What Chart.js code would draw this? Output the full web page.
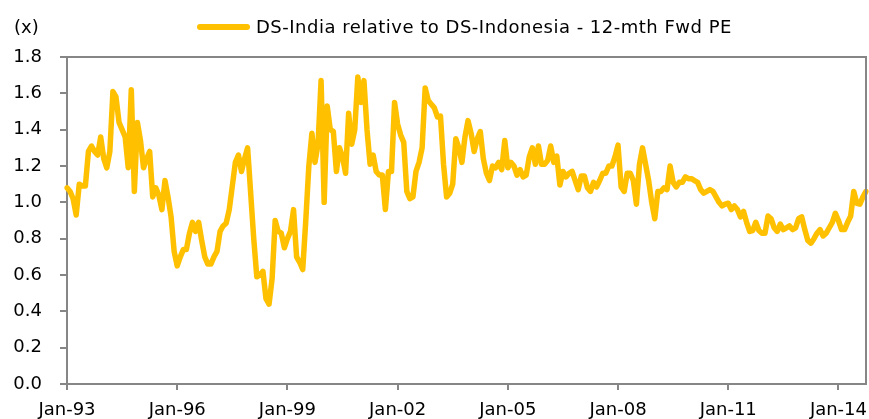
<!DOCTYPE html>
<html>
<head>
<meta charset="utf-8">
<title>DS-India relative to DS-Indonesia - 12-mth Fwd PE</title>
<script src="https://cdn.jsdelivr.net/npm/chart.js@4/dist/chart.umd.min.js"></script>
<style>
    html, body { margin: 0; padding: 0; background: #fff; }
    #wrap { position: relative; width: 869px; height: 419px; overflow: hidden; font-family: "DejaVu Sans", sans-serif; }
    #chart { position: absolute; left: 0; top: 0; }
    #unit { position: absolute; left: 14px; top: 16px; font-size: 18px; color: #000; }
    #legend { position: absolute; left: 197px; top: 16px; font-size: 18px; letter-spacing: 0.5px; color: #000; white-space: nowrap; display: flex; align-items: center; }
    #legend .swatch { display: inline-block; width: 53px; height: 6px; border-radius: 3px; margin-right: 6px; }
</style>
</head>
<body>
<div id="wrap">
    <canvas id="chart" width="869" height="419"></canvas>
    <div id="unit">(x)</div>
    <div id="legend"><span class="swatch"></span><span class="label"></span></div>
</div>
<script>
// ===================================
// India vs Indonesia relative forward PE, monthly Jan-93 .. Oct-14
// ===================================

const SERIES_NAME = 'DS-India relative to DS-Indonesia - 12-mth Fwd PE';
const SERIES_COLOR = '#FFC000';
const START_YEAR = 1993;
const MONTH_NAMES = ['Jan', 'Feb', 'Mar', 'Apr', 'May', 'Jun', 'Jul', 'Aug', 'Sep', 'Oct', 'Nov', 'Dec'];

// relative PE (x), one value per month
const relPE = [
    1.08, 1.06, 1.02, 0.93, 1.10, 1.09, 1.09, 1.28, 1.31, 1.28, 1.26, 1.36, // 1993
    1.24, 1.19, 1.28, 1.61, 1.58, 1.44, 1.40, 1.36, 1.19, 1.62, 1.06, 1.44, // 1994
    1.34, 1.19, 1.24, 1.28, 1.03, 1.08, 1.04, 0.96, 1.12, 1.03, 0.92, 0.73, // 1995
    0.65, 0.70, 0.74, 0.74, 0.83, 0.89, 0.84, 0.89, 0.79, 0.70, 0.66, 0.66, // 1996
    0.70, 0.73, 0.84, 0.87, 0.885, 0.96, 1.09, 1.22, 1.26, 1.17, 1.24, 1.30, // 1997
    1.05, 0.80, 0.59, 0.60, 0.62, 0.47, 0.44, 0.58, 0.90, 0.84, 0.83, 0.75, // 1998
    0.80, 0.84, 0.96, 0.70, 0.67, 0.63, 0.90, 1.20, 1.38, 1.22, 1.32, 1.67, // 1999
    1.00, 1.53, 1.40, 1.39, 1.17, 1.30, 1.25, 1.16, 1.49, 1.32, 1.40, 1.69, // 2000
    1.55, 1.67, 1.40, 1.21, 1.26, 1.17, 1.15, 1.15, 0.96, 1.17, 1.17, 1.55, // 2001
    1.43, 1.37, 1.33, 1.06, 1.02, 1.03, 1.17, 1.22, 1.30, 1.63, 1.56, 1.54, // 2002
    1.52, 1.47, 1.475, 1.21, 1.03, 1.05, 1.10, 1.35, 1.30, 1.22, 1.36, 1.45, // 2003
    1.38, 1.28, 1.35, 1.39, 1.24, 1.16, 1.12, 1.20, 1.19, 1.22, 1.18, 1.34, // 2004
    1.19, 1.22, 1.20, 1.15, 1.18, 1.14, 1.15, 1.25, 1.30, 1.21, 1.31, 1.21, // 2005
    1.21, 1.23, 1.31, 1.22, 1.255, 1.095, 1.17, 1.14, 1.16, 1.17, 1.12, 1.07, // 2006
    1.145, 1.145, 1.08, 1.06, 1.11, 1.085, 1.12, 1.16, 1.16, 1.20, 1.20, 1.25, // 2007
    1.315, 1.085, 1.06, 1.16, 1.16, 1.12, 0.99, 1.21, 1.30, 1.21, 1.12, 1.00, // 2008
    0.91, 1.06, 1.06, 1.08, 1.07, 1.20, 1.11, 1.085, 1.11, 1.11, 1.14, 1.13, // 2009
    1.13, 1.12, 1.11, 1.07, 1.05, 1.06, 1.07, 1.06, 1.03, 1.00, 0.98, 0.99, // 2010
    0.995, 0.96, 0.98, 0.96, 0.92, 0.95, 0.89, 0.84, 0.845, 0.89, 0.845, 0.83, // 2011
    0.83, 0.925, 0.91, 0.86, 0.84, 0.88, 0.85, 0.86, 0.87, 0.85, 0.86, 0.91, // 2012
    0.92, 0.85, 0.79, 0.775, 0.80, 0.83, 0.85, 0.815, 0.83, 0.86, 0.89, 0.94, // 2013
    0.90, 0.85, 0.85, 0.89, 0.925, 1.06, 0.995, 0.99, 1.03, 1.06              // 2014
];

const Y_MIN = 0;
const Y_MAX = 1.8;
const Y_STEP = 0.2;
const TICK_EVERY = 36; // a label every three years

const monthLabels = relPE.map((_, i) => {
    const yy = String((START_YEAR + Math.floor(i / 12)) % 100).padStart(2, '0');
    return MONTH_NAMES[i % 12] + '-' + yy;
});

const AXIS_GREY = '#868686';
const FONT = { family: '"DejaVu Sans", sans-serif', size: 18 };

// html legend
document.querySelector('#legend .swatch').style.background = SERIES_COLOR;
document.querySelector('#legend .label').textContent = SERIES_NAME;

// top + right frame of the plot box
const frameLines = {
    id: 'frameLines',
    afterDraw(chart) {
        const { ctx, chartArea: a } = chart;
        ctx.save();
        ctx.strokeStyle = AXIS_GREY;
        ctx.lineWidth = 2;
        ctx.beginPath();
        ctx.moveTo(a.left - 7, a.top);
        ctx.lineTo(a.right, a.top);
        ctx.lineTo(a.right, a.bottom);
        ctx.stroke();
        ctx.restore();
    }
};

const ctx = document.getElementById('chart').getContext('2d');
new Chart(ctx, {
    type: 'line',
    data: {
        labels: monthLabels,
        datasets: [{
            label: SERIES_NAME,
            data: relPE,
            borderColor: SERIES_COLOR,
            backgroundColor: SERIES_COLOR,
            borderWidth: 5.5,
            pointRadius: 0,
            tension: 0,
            borderJoinStyle: 'round',
            borderCapStyle: 'round'
        }]
    },
    options: {
        responsive: false,
        animation: false,
        layout: { padding: { top: 57, right: 3, left: 0, bottom: 0 } },
        plugins: {
            legend: { display: false },
            tooltip: { enabled: false }
        },
        scales: {
            x: {
                type: 'category',
                offset: false,
                afterFit: (scale) => {
                    scale.height = 35;
                    scale.paddingLeft = 0;
                    scale.paddingRight = 0;
                },
                border: { display: true, color: AXIS_GREY, width: 2 },
                grid: {
                    drawOnChartArea: false,
                    drawTicks: true,
                    tickLength: 6,
                    lineWidth: 2,
                    color: (c) => (c.index % TICK_EVERY === 0 ? AXIS_GREY : 'rgba(0,0,0,0)')
                },
                ticks: {
                    autoSkip: false,
                    maxRotation: 0,
                    minRotation: 0,
                    padding: 10,
                    color: '#000',
                    font: FONT,
                    callback: function (value, index) {
                        return index % TICK_EVERY === 0 ? this.getLabelForValue(value) : '';
                    }
                }
            },
            y: {
                min: Y_MIN,
                max: Y_MAX,
                afterFit: (scale) => { scale.width = 67; },
                border: { display: true, color: AXIS_GREY, width: 2 },
                grid: {
                    drawOnChartArea: false,
                    drawTicks: true,
                    tickLength: 7,
                    lineWidth: 2,
                    color: AXIS_GREY
                },
                ticks: {
                    stepSize: Y_STEP,
                    padding: 18,
                    color: '#000',
                    font: FONT,
                    callback: (v) => v.toFixed(1)
                }
            }
        }
    },
    plugins: [frameLines]
});
</script>
</body>
</html>
